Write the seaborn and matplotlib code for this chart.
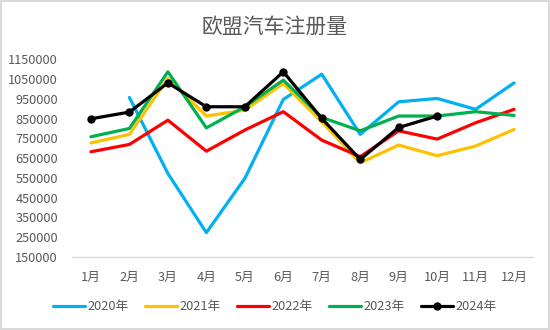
import numpy as np
import pandas as pd
import matplotlib
matplotlib.use("Agg")
import matplotlib.pyplot as plt
import seaborn as sns

months = ["1月", "2月", "3月", "4月", "5月", "6月", "7月", "8月", "9月", "10月", "11月", "12月"]
s2020 = [np.nan, 957000, 572000, 272000, 547000, 947000, 1075000, 770000, 935000, 952000, 897000, 1031000]
s2021 = [727000, 770000, 1054000, 863000, 893000, 1028000, 834000, 626000, 716000, 662000, 711000, 795000]
s2022 = [682000, 719000, 842000, 685000, 792000, 885000, 741000, 657000, 788000, 746000, 829000, 897000]
s2023 = [758000, 800000, 1087000, 803000, 910000, 1045000, 856000, 788000, 863000, 863000, 885000, 866000]
s2024 = [849000, 883000, 1031000, 910000, 910000, 1087000, 851000, 643000, 805000, 863000]
series_names = ["2020年", "2021年", "2022年", "2023年", "2024年"]
yticks = list(range(150000, 1150001, 100000))

colors = ["#00B0F0", "#FFC000", "#FF0000", "#00B050", "#000000"]

sns.set_style("white")
plt.rcParams['font.family'] = ['Noto Sans CJK SC', 'DejaVu Sans']

fig = plt.figure(figsize=(5.5, 3.3), dpi=100)
ax = fig.add_axes([0.1304, 0.222, 0.8393, 0.598])

all_series = [s2020, s2021, s2022, s2023, s2024]
for name, vals, c in zip(series_names, all_series, colors):
    df = pd.DataFrame({"x": np.arange(len(vals)), "y": vals}).dropna()
    kw = dict(marker="o", markersize=6, markeredgewidth=0) if name == "2024年" else {}
    sns.lineplot(data=df, x="x", y="y", ax=ax, color=c, linewidth=2.3,
                 label=name, sort=False, **kw)

ax.set_xlim(-0.5, 11.5)
ax.set_ylim(150000, 1150000)
ax.set_yticks(yticks)
ax.set_yticklabels([str(v) for v in yticks])
ax.set_xticks(range(12))
ax.set_xticklabels(months)
ax.set_xlabel("")
ax.set_ylabel("")
ax.tick_params(axis="both", length=0, labelsize=9.2, colors="#595959", pad=10)
for side in ["top", "right", "left"]:
    ax.spines[side].set_visible(False)
ax.spines["bottom"].set_color("#D9D9D9")
ax.spines["bottom"].set_linewidth(1)

ax.get_legend().remove()
handles, labels = ax.get_legend_handles_labels()
fig.legend(handles, labels, loc="center", bbox_to_anchor=(0.5, 0.07), ncol=5,
           frameon=False, fontsize=9.2, handlelength=2.47, handletextpad=0.2,
           columnspacing=1.3, labelcolor="#595959")

fig.text(0.5, 0.918, "欧盟汽车注册量", ha="center", va="center", fontsize=15, color="#595959")

fig.patch.set_edgecolor("#D9D9D9")
fig.patch.set_linewidth(1.5)
fig.savefig("out.png", dpi=100, edgecolor=fig.get_edgecolor())
